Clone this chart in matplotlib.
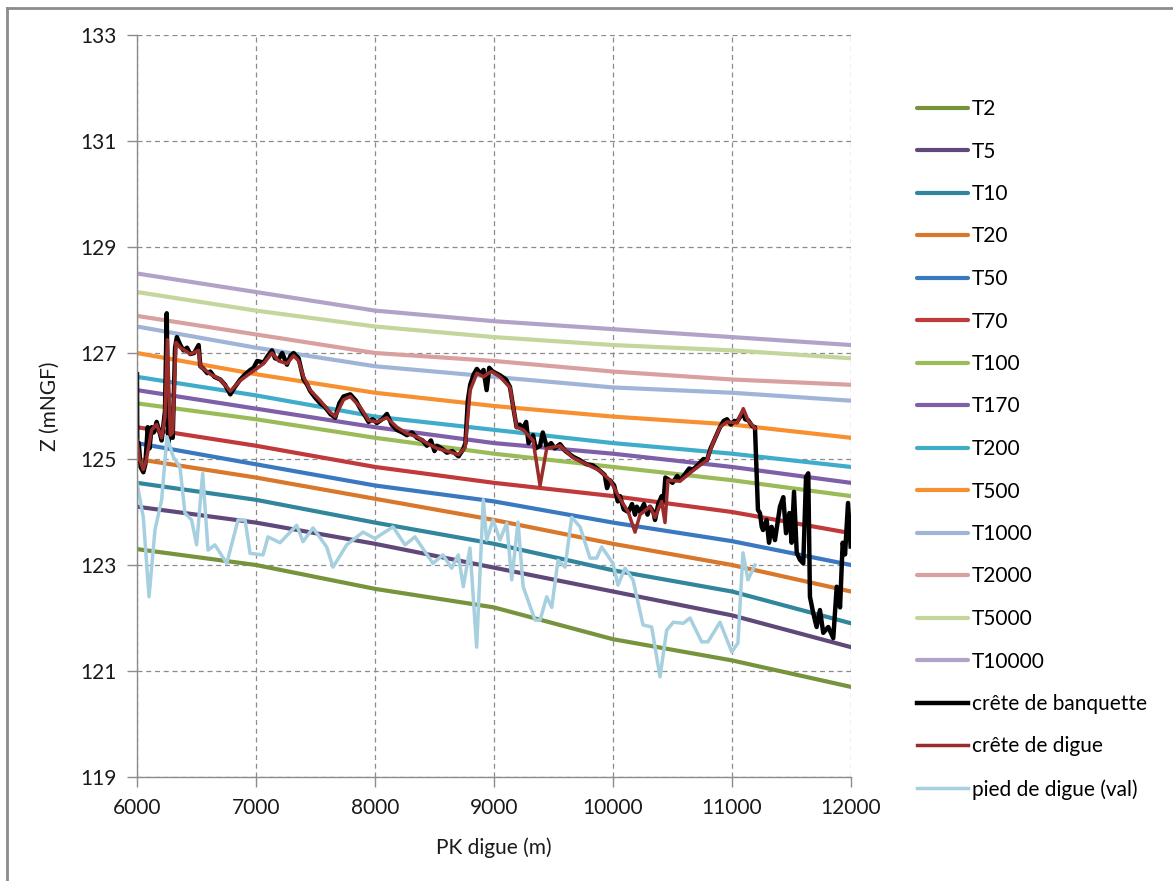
"""Niveaux d'eau par période de retour vs profil en long de la digue."""

import matplotlib
matplotlib.use("Agg")
import matplotlib.pyplot as plt
from matplotlib.lines import Line2D

# --- lignes d'eau par période de retour (PK, Z) ---
rp_pk = [6000, 7000, 8000, 9000, 10000, 11000, 12000]
T2 = [123.3, 123.0, 122.55, 122.2, 121.6, 121.2, 120.7]
T5 = [124.1, 123.8, 123.4, 122.95, 122.5, 122.05, 121.45]
T10 = [124.55, 124.23, 123.8, 123.4, 122.9, 122.5, 121.9]
T20 = [125.0, 124.65, 124.25, 123.85, 123.4, 123.0, 122.5]
T50 = [125.3, 124.9, 124.5, 124.2, 123.8, 123.45, 123.0]
T70 = [125.6, 125.25, 124.85, 124.55, 124.3, 124.0, 123.6]
T100 = [126.05, 125.75, 125.4, 125.1, 124.85, 124.6, 124.3]
T170 = [126.3, 125.95, 125.6, 125.3, 125.1, 124.85, 124.55]
T200 = [126.55, 126.2, 125.8, 125.55, 125.3, 125.1, 124.85]
T500 = [127.0, 126.6, 126.25, 126.0, 125.8, 125.65, 125.4]
T1000 = [127.5, 127.1, 126.75, 126.55, 126.35, 126.25, 126.1]
T2000 = [127.7, 127.35, 127.0, 126.85, 126.65, 126.5, 126.4]
T5000 = [128.15, 127.8, 127.5, 127.3, 127.15, 127.05, 126.9]
T10000 = [128.5, 128.15, 127.8, 127.6, 127.45, 127.3, 127.15]

rp_names = ["T2", "T5", "T10", "T20", "T50", "T70", "T100", "T170",
            "T200", "T500", "T1000", "T2000", "T5000", "T10000"]
rp_values = [T2, T5, T10, T20, T50, T70, T100, T170,
             T200, T500, T1000, T2000, T5000, T10000]

# --- crête de banquette ---
banquette_pk = [6000, 6003, 6015, 6030, 6053, 6070, 6090, 6105, 6123, 6140, 6165, 6190,
                6207, 6235, 6250, 6262, 6280, 6300, 6320, 6335, 6364, 6390, 6420, 6448,
                6480, 6518, 6532, 6560, 6590, 6616, 6650, 6700, 6740, 6784, 6820, 6868,
                6910, 6952, 6980, 7010, 7064, 7100, 7134, 7160, 7190, 7220, 7260, 7290,
                7316, 7358, 7400, 7430, 7456, 7500, 7540, 7580, 7624, 7666, 7700, 7736,
                7792, 7840, 7876, 7920, 7946, 7980, 8016, 8060, 8100, 8140, 8184, 8230,
                8268, 8310, 8352, 8400, 8436, 8470, 8500, 8520, 8560, 8604, 8650, 8702,
                8740, 8760, 8780, 8800, 8830, 8856, 8890, 8912, 8938, 8960, 8990, 9050,
                9100, 9134, 9160, 9190, 9215, 9245, 9270, 9290, 9328, 9350, 9387, 9410,
                9443, 9480, 9510, 9555, 9600, 9666, 9720, 9778, 9830, 9890, 9930, 9950,
                9975, 10010, 10040, 10059, 10090, 10128, 10160, 10185, 10200, 10227, 10260,
                10290, 10311, 10340, 10353, 10380, 10409, 10425, 10440, 10462, 10500,
                10540, 10563, 10600, 10640, 10672, 10720, 10760, 10790, 10820, 10840,
                10870, 10899, 10930, 10958, 10990, 11020, 11042, 11070, 11095, 11110,
                11137, 11170, 11193, 11218, 11235, 11250, 11261, 11291, 11311, 11333,
                11361, 11403, 11431, 11454, 11482, 11501, 11521, 11544, 11571, 11599,
                11622, 11641, 11655, 11683, 11711, 11739, 11767, 11809, 11851, 11880,
                11908, 11930, 11950, 11975, 11997]
banquette_z = [126.6, 125.0, 125.3, 124.85, 124.75, 124.9, 125.6, 125.2, 125.6, 125.5, 125.7, 125.5,
               125.35, 125.9, 127.75, 125.3, 125.5, 125.4, 127.1, 127.3, 127.15, 127.05, 127.1, 126.98,
               127.0, 127.15, 126.75, 126.7, 126.62, 126.65, 126.55, 126.5, 126.4, 126.22, 126.35, 126.5,
               126.6, 126.68, 126.72, 126.85, 126.82, 126.95, 127.05, 126.9, 126.88, 127.0, 126.78, 126.95,
               127.0, 126.9, 126.5, 126.4, 126.28, 126.15, 126.05, 125.98, 125.85, 125.78, 126.05, 126.18,
               126.22, 126.1, 125.95, 125.8, 125.7, 125.75, 125.68, 125.75, 125.85, 125.65, 125.55, 125.5,
               125.45, 125.5, 125.4, 125.35, 125.25, 125.35, 125.15, 125.25, 125.2, 125.12, 125.15, 125.05,
               125.18, 125.3, 126.1, 126.4, 126.6, 126.7, 126.6, 126.68, 126.3, 126.72, 126.65, 126.58,
               126.5, 126.36, 126.0, 125.6, 125.65, 125.58, 125.7, 125.3, 125.45, 125.2, 125.25, 125.5,
               125.23, 125.3, 125.2, 125.28, 125.15, 125.04, 124.98, 124.9, 124.88, 124.78, 124.7, 124.45,
               124.6, 124.5, 124.2, 124.3, 124.05, 124.0, 124.15, 123.95, 124.1, 124.0, 124.15,
               123.95, 124.1, 124.0, 123.85, 124.15, 124.3, 124.2, 124.65, 124.62, 124.55,
               124.68, 124.6, 124.7, 124.82, 124.8, 124.9, 125.0, 124.98, 125.2, 125.3,
               125.45, 125.6, 125.72, 125.75, 125.65, 125.72, 125.7, 125.8, 125.9, 125.75,
               125.73, 125.62, 125.6, 124.04, 123.98, 123.72, 123.66, 123.85, 123.42, 123.72,
               123.47, 124.1, 124.28, 123.6, 123.98, 123.42, 124.38, 123.23, 123.1, 123.03,
               124.66, 124.73, 122.4, 122.09, 121.83, 122.15, 121.72, 121.83, 121.62, 122.59,
               122.2, 123.42, 123.2, 124.17, 123.35]

# --- crête de digue ---
digue_pk = [6000, 6020, 6053, 6080, 6123, 6165, 6207, 6235, 6255, 6280, 6300, 6328, 6364,
            6448, 6518, 6532, 6616, 6700, 6784, 6868, 6952, 7064, 7134, 7190, 7260, 7316,
            7358, 7400, 7456, 7540, 7624, 7666, 7736, 7792, 7876, 7946, 8016, 8100, 8184,
            8268, 8352, 8436, 8520, 8604, 8702, 8758, 8800, 8856, 8912, 8954, 8980, 9050,
            9134, 9190, 9245, 9328, 9387, 9443, 9555, 9666, 9778, 9890, 9975, 10059, 10128,
            10185, 10227, 10311, 10353, 10409, 10437, 10462, 10563, 10672, 10790, 10840,
            10899, 10958, 11042, 11095, 11137, 11193]
digue_z = [125.35, 125.0, 124.8, 125.0, 125.55, 125.65, 125.4, 125.8, 127.25, 125.45, 125.5, 127.2, 127.1,
           126.98, 127.05, 126.75, 126.6, 126.5, 126.28, 126.48, 126.62, 126.8, 127.0, 126.85, 126.8, 126.95,
           126.85, 126.55, 126.3, 126.1, 125.88, 125.8, 126.12, 126.18, 125.98, 125.73, 125.7, 125.78, 125.6,
           125.48, 125.42, 125.3, 125.2, 125.15, 125.08, 125.22, 126.3, 126.62, 126.55, 126.62, 126.65, 126.55,
           126.35, 125.6, 125.55, 125.35, 124.5, 125.2, 125.25, 125.02, 124.9, 124.78, 124.6, 124.25, 124.0,
           123.62, 123.95, 124.1, 123.9, 124.2, 123.8, 124.6, 124.58, 124.78, 124.98, 125.3,
           125.6, 125.7, 125.68, 125.95, 125.72, 125.58]

# --- pied de digue (val) ---
pied_pk = [6000, 6053, 6101, 6151, 6207, 6252, 6305, 6361, 6403, 6459, 6501, 6552, 6597, 6655,
           6754, 6849, 6908, 6950, 7059, 7101, 7202, 7342, 7395, 7479, 7594, 7647, 7762, 7899,
           8000, 8151, 8252, 8336, 8487, 8571, 8644, 8700, 8742, 8798, 8854, 8910, 8938, 8992,
           9050, 9107, 9149, 9202, 9245, 9345, 9387, 9443, 9485, 9538, 9597, 9653, 9723, 9807,
           9863, 9905, 10000, 10042, 10101, 10168, 10252, 10325, 10395, 10451, 10507, 10591,
           10647, 10745, 10798, 10899, 10998, 11050, 11092, 11134, 11193]
pied_z = [124.55, 123.9, 122.4, 123.66, 124.23, 125.42, 125.04, 124.85, 123.98, 123.85, 123.38, 124.73,
          123.28, 123.38, 123.03, 123.85, 123.85, 123.22, 123.19, 123.53, 123.42, 123.75, 123.44, 123.7,
          123.34, 122.96, 123.38, 123.62, 123.5, 123.72, 123.38, 123.53, 123.03, 123.19, 122.94, 123.19,
          122.59, 123.32, 121.45, 124.23, 123.47, 123.85, 123.47, 123.79, 122.72, 123.81, 122.59, 121.96,
          121.96, 122.4, 122.2, 123.09, 122.96, 123.9, 123.72, 123.13, 123.13, 123.34, 123.03, 122.62,
          122.94, 122.72, 121.87, 121.83, 120.89, 121.77, 121.92, 121.9, 122.0, 121.55, 121.55, 121.92,
          121.36, 121.53, 123.23, 122.72, 123.0]

rp_colors = ["#77933c", "#60497a", "#31859c", "#d9772b", "#3a78c0", "#c0393b", "#9bbb59",
             "#7f5fa8", "#3fadc9", "#f79030", "#a0b4d8", "#d9a0a0", "#c3d69b", "#b3a2c7"]

plt.rcParams["font.family"] = ["Lato", "DejaVu Sans"]

fig = plt.figure(figsize=(11.73, 8.81), dpi=100)
ax = fig.add_axes([137 / 1173, 1 - 777 / 881, (851 - 137) / 1173, (777 - 35) / 881])

for name, vals, col in zip(rp_names, rp_values, rp_colors):
    ax.plot(rp_pk, vals, color=col, lw=3.0, label=name, solid_capstyle="round")
ax.plot(banquette_pk, banquette_z, color="black", lw=3.2, label="crête de banquette")
ax.plot(digue_pk, digue_z, color="#9b2c2c", lw=2.5, label="crête de digue")
ax.plot(pied_pk, pied_z, color="#a6cfdf", lw=2.5, label="pied de digue (val)")

ax.set_xlim(6000, 12000)
ax.set_ylim(119, 133)
ax.set_xticks(range(6000, 12001, 1000))
ax.set_yticks(range(119, 134, 2))
ax.grid(True, color="#8c8c8c", linestyle=(0, (4, 3)), linewidth=0.9)
ax.set_axisbelow(True)
for s in ["top", "right"]:
    ax.spines[s].set_visible(False)
for s in ["left", "bottom"]:
    ax.spines[s].set_color("#8c8c8c")
    ax.spines[s].set_linewidth(1.0)
ax.tick_params(colors="#8c8c8c", length=7, width=1.0, labelcolor="#1a1a1a",
               labelsize=15, pad=8)
ax.set_xlabel("PK digue (m)", fontsize=15, color="#1a1a1a", labelpad=14)
ax.set_ylabel("Z (mNGF)", fontsize=15, color="#1a1a1a", labelpad=14)

handles, labels = ax.get_legend_handles_labels()
fig.legend(handles, labels, loc="upper left", bbox_to_anchor=(917 / 1173, 1 - 99 / 881),
           frameon=False, fontsize=15, handlelength=2.45, handletextpad=0.2,
           labelspacing=1.08, borderpad=0, borderaxespad=0)

# cadre extérieur du graphique (style tableur)
fig.add_artist(Line2D([7 / 1173, 7 / 1173], [0, 1 - 8 / 881], color="#8c8c8c", lw=2.0))
fig.add_artist(Line2D([7 / 1173, 1], [1 - 8 / 881, 1 - 8 / 881], color="#8c8c8c", lw=2.0))

fig.savefig("out.png", dpi=100, facecolor="white")
